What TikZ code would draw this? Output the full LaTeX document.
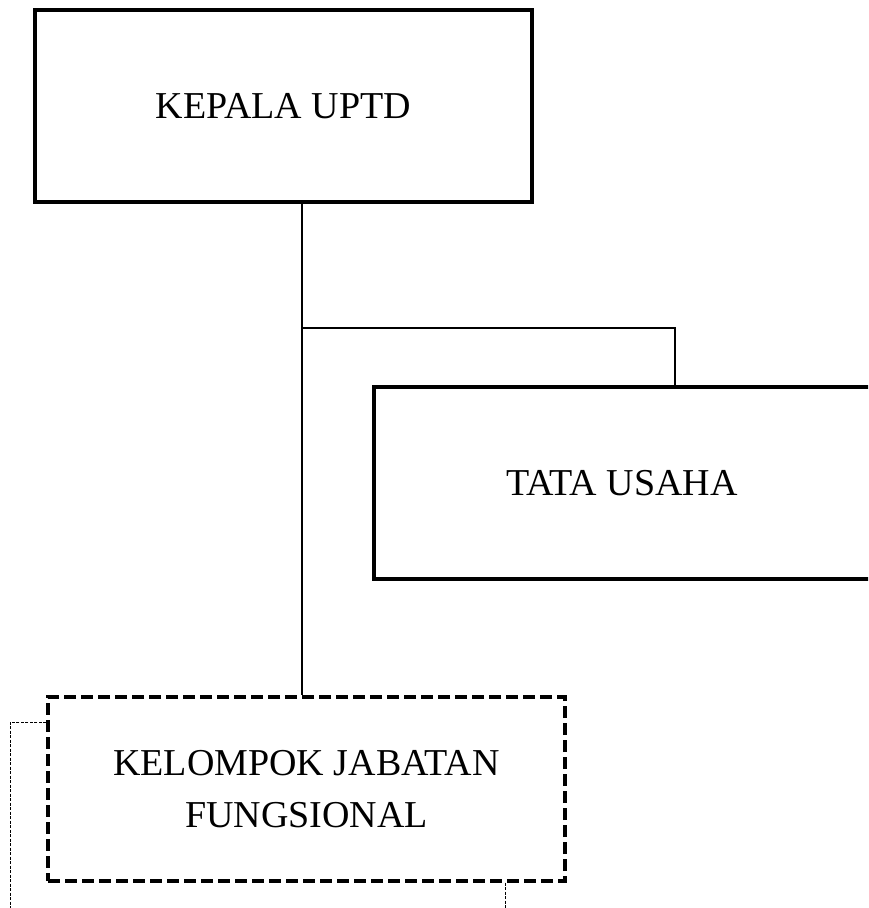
\documentclass[tikz,border=0pt]{standalone}
\usepackage{fontspec}
\setmainfont{Liberation Serif}
\tikzset{
  orgbox/.style={draw, line width=3.5pt, inner sep=0pt, align=center, font=\fontsize{38}{52}\selectfont},
  fungbox/.style={orgbox, line width=3.2pt, dash pattern=on 12pt off 5pt},
  link/.style={line width=1.8pt},
  dotlink/.style={line width=1pt, dash pattern=on 3pt off 1.5pt}
}
\begin{document}
\begin{tikzpicture}[x=1pt,y=-1pt]
\useasboundingbox (0,0) rectangle (868,908);
\clip (0,0) rectangle (868,908);
\node[orgbox, minimum width=497pt, minimum height=192pt] (kepala) at (283.5,106) {KEPALA UPTD};
\node[orgbox, line width=4pt, minimum width=506pt, minimum height=192pt] (tu) at (627,483) {TATA USAHA\hspace{10pt}};
\node[fungbox, minimum width=517pt, minimum height=184pt] (kel) at (306.5,789) {KELOMPOK JABATAN\\FUNGSIONAL};
\coordinate (trunk) at (302,328);
\coordinate (tudrop) at (675,328);
\coordinate (dlt) at (10,722);
\coordinate (dlb) at (10,908);
\coordinate (drb) at (505,908);
\draw[link] (trunk |- kepala.south) -- (trunk |- kel.north);
\draw[link] (trunk) -- (tudrop) -- (tudrop |- tu.north);
\draw[dotlink] (kel.west |- dlt) -- (dlt) -- (dlb);
\draw[dotlink] (drb |- kel.south) -- (drb);
\end{tikzpicture}
\end{document}
